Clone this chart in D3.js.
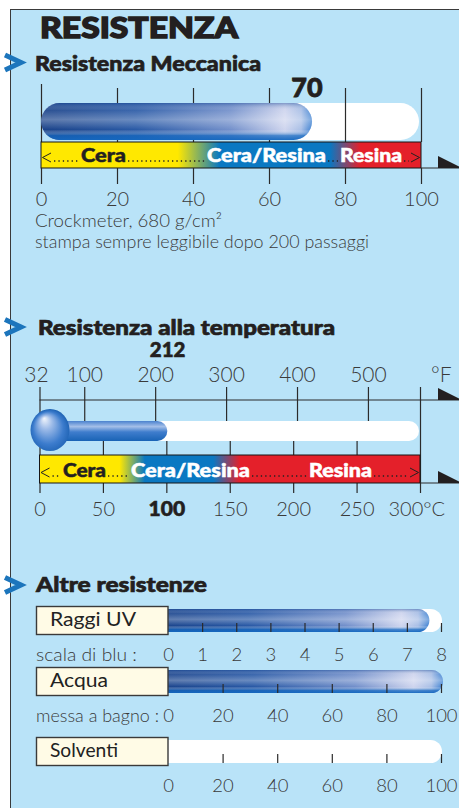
<!DOCTYPE html>
<html>
<head>
<meta charset="utf-8">
<script src="https://cdn.jsdelivr.net/npm/d3@7"></script>
<style>
html, body { margin: 0; padding: 0; background: #fff; }
svg { display: block; }
.light { font-family: Lato, 'Open Sans', sans-serif; font-weight: 300; fill: #3a3a3a; }
.book { font-family: Lato, 'Open Sans', sans-serif; font-weight: 400; fill: #222; }
.heavy { font-family: Lato, 'DejaVu Sans', sans-serif; font-weight: 900; fill: #231f20; }
</style>
</head>
<body>
<div id="chart"></div>
<script>
// ---- data ----
var mechTicks = [0, 20, 40, 60, 80, 100];
var mechValue = 70;
var mechZones = ['Cera', 'Cera/Resina', 'Resina'];
var mechZoneStops = [[0, 36], [47, 76], [84, 100]];

var tempTicksF = [32, 100, 200, 300, 400, 500];
var tempTicksC = [0, 50, 100, 150, 200, 250, 300];
var tempValueC = 100;
var tempValueF = 212;
var tempZones = ['Cera', 'Cera/Resina', 'Resina'];
var tempZoneStops = [[0, 63], [83, 137], [158, 300]];

var otherNames = ['Raggi UV', 'Acqua', 'Solventi'];
var otherScaleLabels = ['scala di blu :', 'messa a bagno :', ''];
var otherMax = [8, 100, 100];
var otherValues = [7.6, 100, 0];
var otherTicks = [[0, 1, 2, 3, 4, 5, 6, 7, 8], [0, 20, 40, 60, 80, 100], [0, 20, 40, 60, 80, 100]];

var zoneColors = ['#ffe800', '#0a78c2', '#e4202a'];

var W = 459, H = 808;

var svg = d3.select('#chart').append('svg')
	.attr('width', W)
	.attr('height', H);

var defs = svg.append('defs');

function linGrad(id, x2, y2, stops) {
	var g = defs.append('linearGradient').attr('id', id)
		.attr('x1', 0).attr('y1', 0).attr('x2', x2).attr('y2', y2);
	stops.forEach(function(s) {
		g.append('stop').attr('offset', s[0]).attr('stop-color', s[1])
			.attr('stop-opacity', s[2] == null ? 1 : s[2]);
	});
	return g;
}

// glossy tube
linGrad('tubeH', 1, 0, [[0, '#1a4289'], [0.35, '#2a5aa6'], [0.7, '#7390cb'], [0.9, '#cfd5ee'], [0.96, '#a9bfe6'], [1, '#3f82d2']]);
linGrad('tubeV', 0, 1, [[0, '#1d4c98', 0.45], [0.2, '#ffffff', 0.08], [0.45, '#ffffff', 0.3], [0.72, '#ffffff', 0], [0.88, '#1468c0', 0.7], [1, '#1468c0', 0.95]]);
linGrad('stem', 0, 1, [[0, '#4a82cf'], [0.28, '#a4bfe8'], [0.55, '#3f7dcd'], [1, '#1963b5']]);

var bulb = defs.append('radialGradient').attr('id', 'bulb')
	.attr('cx', '0.5').attr('cy', '0.55').attr('r', '0.55')
	.attr('fx', '0.35').attr('fy', '0.22');
[[0, '#f3f6fc'], [0.3, '#9dbbe8'], [0.7, '#3c7ccd'], [1, '#1a5fb0']].forEach(function(s) {
	bulb.append('stop').attr('offset', s[0]).attr('stop-color', s[1]);
});

// band gradient, stops in scale units
function bandGrad(id, scale, stops) {
	var d = scale.domain();
	var g = defs.append('linearGradient').attr('id', id)
		.attr('gradientUnits', 'userSpaceOnUse')
		.attr('x1', scale(d[0])).attr('x2', scale(d[1])).attr('y1', 0).attr('y2', 0);
	stops.forEach(function(z, i) {
		g.append('stop').attr('offset', (z[0] - d[0]) / (d[1] - d[0])).attr('stop-color', zoneColors[i]);
		g.append('stop').attr('offset', (z[1] - d[0]) / (d[1] - d[0])).attr('stop-color', zoneColors[i]);
	});
}

function tube(g, x0, x1, y, h) {
	g.append('rect').attr('x', x0).attr('y', y).attr('width', x1 - x0).attr('height', h)
		.attr('rx', h / 2).attr('fill', 'url(#tubeH)');
	g.append('rect').attr('x', x0).attr('y', y).attr('width', x1 - x0).attr('height', h)
		.attr('rx', h / 2).attr('fill', 'url(#tubeV)');
}

function chevron(yMid) {
	svg.append('path')
		.attr('d', 'M5,' + (yMid - 7.5) + 'L21,' + yMid + 'L5,' + (yMid + 7.5))
		.attr('fill', 'none').attr('stroke', '#1c75bc').attr('stroke-width', 5);
}

function heading(text, x, y, size, len, sw) {
	svg.append('text').attr('class', 'heavy')
		.attr('x', x).attr('y', y).attr('font-size', size)
		.attr('textLength', len).attr('lengthAdjust', 'spacingAndGlyphs')
		.attr('stroke', '#231f20').attr('stroke-width', sw)
		.text(text);
}

function styleAxis(g) {
	g.select('.domain').remove();
	g.selectAll('.tick line').attr('stroke', '#2b2b2b').attr('stroke-width', 1.2);
}

function dots(g, x0, x1, y) {
	g.append('line').attr('x1', x0).attr('x2', x1).attr('y1', y).attr('y2', y)
		.attr('stroke', '#222').attr('stroke-width', 1.3).attr('stroke-dasharray', '1.3 3.1');
}

function arrowHead(x, y) {
	svg.append('path').attr('d', 'M' + x + ',' + (y - 12) + 'L' + x + ',' + y + 'L' + (x + 24) + ',' + y + 'Z')
		.attr('fill', '#231f20');
}

// band with labels: layout = pixel x of each label start and label widths
function band(g, scale, y, h, gradId, names, layout, baseline) {
	var d = scale.domain();
	g.append('rect').attr('x', scale(d[0])).attr('y', y)
		.attr('width', scale(d[1]) - scale(d[0])).attr('height', h)
		.attr('fill', 'url(#' + gradId + ')').attr('stroke', '#161616').attr('stroke-width', 1);

	var xa = scale(d[0]), xb = scale(d[1]);
	// small < and > marks
	g.append('path').attr('d', 'M' + (xa + 10) + ',' + (baseline - 9) + 'L' + (xa + 1.5) + ',' + (baseline - 4.5) + 'L' + (xa + 10) + ',' + baseline)
		.attr('fill', 'none').attr('stroke', '#222').attr('stroke-width', 1);
	g.append('path').attr('d', 'M' + (xb - 10) + ',' + (baseline - 9) + 'L' + (xb - 1.5) + ',' + (baseline - 4.5) + 'L' + (xb - 10) + ',' + baseline)
		.attr('fill', 'none').attr('stroke', '#222').attr('stroke-width', 1);

	var prev = xa + 13;
	names.forEach(function(n, i) {
		dots(g, prev, layout[i][0] - 2, baseline - 1);
		var c = i == 0 ? '#231f20' : '#ffffff';
		g.append('text').attr('class', 'heavy')
			.attr('x', layout[i][0]).attr('y', baseline)
			.attr('font-size', 18)
			.attr('textLength', layout[i][1]).attr('lengthAdjust', 'spacingAndGlyphs')
			.attr('stroke', c).attr('stroke-width', 0.5)
			.style('fill', c)
			.text(n);
		prev = layout[i][0] + layout[i][1] + 2;
	});
	dots(g, prev, xb - 12, baseline - 1);
}

// ---- panel ----
svg.append('rect')
	.attr('x', 10.5).attr('y', 9.5).attr('width', 460).attr('height', 810)
	.attr('fill', '#b9e3f8').attr('stroke', '#3a3a3a').attr('stroke-width', 1);

heading('RESISTENZA', 40, 38, 29, 198, 1.4);

// ---- Resistenza Meccanica ----
chevron(62.5);
heading('Resistenza Meccanica', 35, 71, 21, 226, 0.7);

var xMech = d3.scaleLinear().domain([0, 100]).range([41, 421]);
bandGrad('bandMech', xMech, mechZoneStops);

var s1 = svg.append('g');

s1.append('rect').attr('x', xMech(0)).attr('y', 103)
	.attr('width', xMech(100) - 2 - xMech(0)).attr('height', 37)
	.attr('rx', 18.5).attr('fill', '#ffffff');

s1.append('g').attr('transform', 'translate(0,88)')
	.call(d3.axisBottom(xMech).tickValues(mechTicks).tickSize(54).tickFormat(''))
	.call(styleAxis)
	.call(function(g) {
		g.selectAll('text').remove();
		g.selectAll('.tick line').filter(function(d) { return d == 0; }).attr('y1', -4);
	});

tube(s1, xMech(0), xMech(mechValue) + 5, 103, 37);

band(s1, xMech, 142, 26, 'bandMech', mechZones, [[81, 45], [207, 119], [340, 62]], 162);

svg.append('line').attr('x1', xMech(100)).attr('x2', W).attr('y1', 168).attr('y2', 168)
	.attr('stroke', '#2b2b2b').attr('stroke-width', 1.2);
arrowHead(438, 168);

s1.append('g').attr('transform', 'translate(0,168)')
	.call(d3.axisBottom(xMech).tickValues(mechTicks).tickSize(16))
	.call(styleAxis)
	.call(function(g) {
		g.selectAll('text').attr('class', 'light').attr('y', 38).attr('dy', 0)
			.attr('font-size', 20);
	});

s1.append('text').attr('class', 'heavy')
	.attr('x', xMech(mechValue)).attr('y', 97).attr('text-anchor', 'middle')
	.attr('font-size', 27).attr('stroke', '#231f20').attr('stroke-width', 0.8)
	.text(mechValue);

s1.append('text').attr('class', 'light').attr('x', 35).attr('y', 227)
	.attr('font-size', 17.5).attr('textLength', 187).attr('lengthAdjust', 'spacingAndGlyphs')
	.text('Crockmeter, 680 g/cm\u00B2');
s1.append('text').attr('class', 'light').attr('x', 35).attr('y', 248)
	.attr('font-size', 17.5).attr('textLength', 334).attr('lengthAdjust', 'spacingAndGlyphs')
	.text('stampa sempre leggibile dopo 200 passaggi');

// ---- Resistenza alla temperatura ----
chevron(327);
heading('Resistenza alla temperatura', 38, 335, 21, 297, 0.7);

var xC = d3.scaleLinear().domain([0, 300]).range([39.5, 420]);
var xF = d3.scaleLinear().domain([32, 572]).range([36, 419]);
bandGrad('bandTemp', xC, tempZoneStops);

var s2 = svg.append('g');

s2.append('line').attr('x1', xC(0)).attr('x2', W).attr('y1', 400).attr('y2', 400)
	.attr('stroke', '#2b2b2b').attr('stroke-width', 1.2);
arrowHead(438, 400);

s2.append('g').attr('transform', 'translate(0,387)')
	.call(d3.axisBottom(xF).tickValues(tempTicksF).tickSize(34))
	.call(styleAxis)
	.call(function(g) {
		g.selectAll('text').attr('class', 'light').attr('y', -5).attr('dy', 0)
			.attr('font-size', 21);
		g.selectAll('.tick').filter(function(d) { return d == 32; }).select('line').attr('x1', xC(0) - xF(32)).attr('x2', xC(0) - xF(32));
	});
s2.append('text').attr('class', 'light').attr('x', 431).attr('y', 382)
	.attr('font-size', 21).text('\u00B0F');

s2.append('text').attr('class', 'heavy')
	.attr('x', xF(tempValueF) + 4).attr('y', 357).attr('text-anchor', 'middle')
	.attr('font-size', 20.5).attr('stroke', '#231f20').attr('stroke-width', 0.6)
	.text(tempValueF);

// °C ticks behind band
s2.append('g').attr('transform', 'translate(0,441)')
	.call(d3.axisBottom(xC).tickValues(tempTicksC).tickSize(52))
	.call(styleAxis)
	.call(function(g) {
		g.selectAll('.tick').filter(function(d) { return d == 300; }).select('line').attr('y1', -54);
		g.selectAll('text').attr('class', 'light').attr('y', 75).attr('dy', 0)
			.attr('font-size', 20);
		g.selectAll('.tick').filter(function(d) { return d == tempValueC; }).select('text')
			.attr('class', 'heavy').attr('font-size', 21)
			.attr('stroke', '#231f20').attr('stroke-width', 0.6);
		g.selectAll('.tick').filter(function(d) { return d == 300; }).select('text')
			.attr('text-anchor', 'start').attr('x', -32).text('300\u00B0C');
	});

// thermometer
s2.append('rect').attr('x', xC(0)).attr('y', 421)
	.attr('width', xC(300) - 1 - xC(0)).attr('height', 20)
	.attr('rx', 10).attr('fill', '#ffffff');
s2.append('rect').attr('x', xC(0)).attr('y', 421)
	.attr('width', xC(tempValueC) + 1 - xC(0)).attr('height', 20)
	.attr('rx', 10).attr('fill', 'url(#stem)');
s2.append('ellipse').attr('cx', 50).attr('cy', 430).attr('rx', 19.5).attr('ry', 21)
	.attr('fill', 'url(#bulb)');

band(s2, xC, 455, 28, 'bandTemp', tempZones, [[63, 43], [131, 119], [309, 63]], 477);

svg.append('line').attr('x1', xC(300)).attr('x2', W).attr('y1', 483).attr('y2', 483)
	.attr('stroke', '#2b2b2b').attr('stroke-width', 1.2);
arrowHead(438, 483);

// ---- Altre resistenze ----
chevron(585);
heading('Altre resistenze', 36, 592, 21, 171, 0.7);

var rowY = [606, 667, 737];
var nameLen = [86, 58, 68];
var scaleLabelLen = [101, 123, 0];

otherNames.forEach(function(name, i) {
	var y = rowY[i];
	var xs = d3.scaleLinear().domain([0, otherMax[i]]).range([168, 441]);
	var g = svg.append('g');

	g.append('rect').attr('x', 150).attr('y', y + 3)
		.attr('width', xs(otherMax[i]) + 1 - 150).attr('height', 23)
		.attr('rx', 11.5).attr('fill', '#ffffff');
	if (otherValues[i] > 0) {
		tube(g, 150, xs(otherValues[i]) + 2, y + 3, 23);
	}

	g.append('g').attr('transform', 'translate(0,' + (y + 26) + ')')
		.call(d3.axisTop(xs).tickValues(otherTicks[i]).tickSize(9))
		.call(styleAxis)
		.call(function(a) {
			a.selectAll('.tick').filter(function(d) { return d == 0; }).select('line').remove();
			a.selectAll('text').attr('class', 'light').attr('y', 29).attr('dy', 0)
				.attr('font-size', 18.5);
		});

	g.append('rect').attr('x', 36.5).attr('y', y + 0.5).attr('width', 131.5).attr('height', 28)
		.attr('fill', '#fffbe6').attr('stroke', '#3a3a3a').attr('stroke-width', 1.4);
	g.append('text').attr('class', 'book').attr('x', 50).attr('y', y + 20)
		.attr('font-size', 19.5)
		.attr('textLength', nameLen[i]).attr('lengthAdjust', 'spacingAndGlyphs')
		.text(name);

	if (otherScaleLabels[i]) {
		g.append('text').attr('class', 'light').attr('x', 36).attr('y', y + 55)
			.attr('font-size', 17)
			.attr('textLength', scaleLabelLen[i]).attr('lengthAdjust', 'spacingAndGlyphs')
			.text(otherScaleLabels[i]);
	}
});
</script>
</body>
</html>
